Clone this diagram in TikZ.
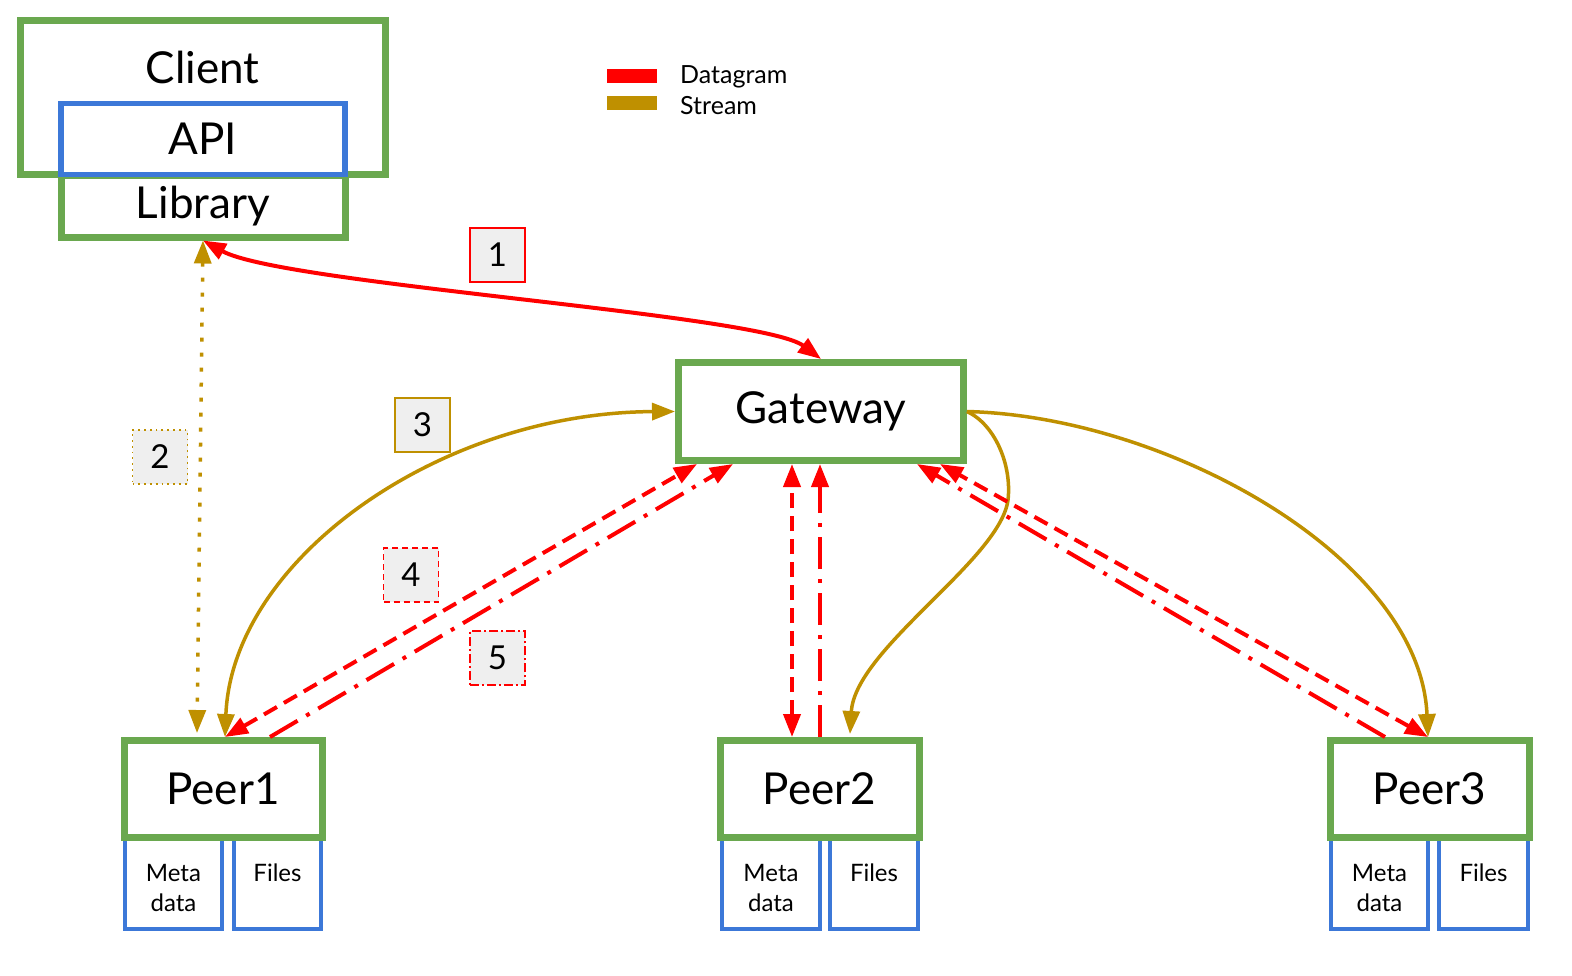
\documentclass[tikz,border=0pt]{standalone}
\usepackage{fontspec}
\setmainfont{Lato}
\usetikzlibrary{arrows.meta}
\definecolor{gr}{HTML}{6AA84F}
\definecolor{bl}{HTML}{3C78D8}
\definecolor{rd}{HTML}{FF0000}
\definecolor{gd}{HTML}{BF9000}
\definecolor{lg}{HTML}{EFEFEF}
\begin{document}
\begin{tikzpicture}[x=1pt,y=-1pt,
 gbox/.style={draw=gr,line width=7pt,fill=white,inner sep=0pt},
 bbox/.style={draw=bl,line width=3.5pt,fill=white,inner sep=0pt},
 big/.style={font=\fontsize{44}{52}\selectfont},
 small/.style={font=\fontsize{24}{30}\selectfont,align=center},
 legtext/.style={font=\fontsize{25}{30}\selectfont,anchor=west,inner sep=0pt},
 numbox/.style={fill=lg,minimum width=55pt,minimum height=54pt,font=\fontsize{33}{38}\selectfont,inner sep=0pt},
 tipA/.style={-{Triangle[length=23pt,width=17pt]}},
 tipB/.style={{Triangle[length=23pt,width=17pt]}-{Triangle[length=23pt,width=17pt]}},
 dg/.style={draw=rd,line width=4pt},
 st/.style={draw=gd,line width=3.5pt},
 dsh/.style={dash pattern=on 15pt off 8pt},
 dshdot/.style={dash pattern=on 32pt off 10pt on 4pt off 10pt},
 dtt/.style={dash pattern=on 4pt off 11pt},
]
\useasboundingbox[fill=white] (0,0) rectangle (1572,975);

% client
\node[gbox,minimum width=365pt,minimum height=154pt] (client) at (202.5,97) {};
\node[big] (clienttxt) at (202.5,67) {Client};
\node[gbox,minimum width=284pt,minimum height=62pt,big] (lib) at (203,206) {Library};
\node[bbox,line width=5.5pt,minimum width=284pt,minimum height=71pt,big] (api) at (203,139) {API};

% legend
\node[fill=rd,minimum width=50pt,minimum height=14pt,inner sep=0pt] (legd) at (632,76) {};
\node[fill=gd,minimum width=50pt,minimum height=14pt,inner sep=0pt] (legs) at (632,103) {};
\node[legtext] (legdt) at (680,77) {Datagram};
\node[legtext] (legst) at (680,106) {Stream};

% gateway
\node[gbox,minimum width=285pt,minimum height=98pt,big] (gw) at (821,411.5) {Gateway};

% peers
\node[bbox,minimum width=97pt,minimum height=92pt,small,text depth=0pt] (m1) at (173.5,883) {};
\node[small] (m1t) at (173.5,888) {Meta\\data};
\node[bbox,minimum width=87pt,minimum height=92pt] (f1) at (277.5,883) {};
\node[small] (f1t) at (277.5,873) {Files};
\node[gbox,minimum width=198pt,minimum height=97pt,big] (p1) at (223,789) {Peer1};

\node[bbox,minimum width=98pt,minimum height=92pt] (m2) at (771,883) {};
\node[small] (m2t) at (771,888) {Meta\\data};
\node[bbox,minimum width=88pt,minimum height=92pt] (f2) at (874,883) {};
\node[small] (f2t) at (874,873) {Files};
\node[gbox,minimum width=199pt,minimum height=97pt,big] (p2) at (819.5,789) {Peer2};

\node[bbox,minimum width=97pt,minimum height=92pt] (m3) at (1379.5,883) {};
\node[small] (m3t) at (1379.5,888) {Meta\\data};
\node[bbox,minimum width=89pt,minimum height=92pt] (f3) at (1483.5,883) {};
\node[small] (f3t) at (1483.5,873) {Files};
\node[gbox,minimum width=199pt,minimum height=97pt,big] (p3) at (1429.5,789) {Peer3};

% number boxes
\node[numbox,draw=rd,line width=1.8pt] (n1) at (497.5,255) {1};
\node[numbox,draw=gd,line width=1.8pt,dash pattern=on 1.8pt off 4pt] (n2) at (160,457) {2};
\node[numbox,draw=gd,line width=1.8pt] (n3) at (422.5,425) {3};
\node[numbox,draw=rd,line width=1.5pt,dash pattern=on 6pt off 4pt] (n4) at (411,575) {4};
\node[numbox,draw=rd,line width=1.5pt,dash pattern=on 9pt off 3pt on 2pt off 3pt] (n5) at (497.5,658) {5};

% 1: library <-> gateway
\draw[dg,tipB] (lib.south) .. controls +(80,44) and +(-60,-45) .. (gw.north);
% 2: library <-> peer1 (dotted)
\draw[st,tipB,dtt] (lib.south) -- ([xshift=-26pt,yshift=4pt]p1.north);
% 3: peer1 <-> gateway
\draw[st,tipB] ([xshift=2pt]p1.north) .. controls +(7,-177) and +(-236,1) .. (gw.west);
% gateway -> peer3, peer2
\draw[st,tipA] (gw.east) .. controls +(200,5) and +(-8,-180) .. ([xshift=-1.5pt]p3.north);
\coordinate (sbend) at (1008,500);
\draw[st,tipA] (gw.east) .. controls +(28,13) and +(4,-35) .. (sbend)
  .. controls +(-8,60) and +(5,-85) .. ([xshift=30.5pt,yshift=3pt]p2.north);

% 4, 5: datagrams
\draw[dg,tipB,dsh] ([xshift=2pt]p1.north) -- ([xshift=-124pt]gw.south);
\draw[dg,tipA,dshdot] ([xshift=47pt]p1.north) -- ([xshift=-88pt]gw.south);
\draw[dg,tipB,dsh] ([xshift=-27.5pt]p2.north) -- ([xshift=-29pt]gw.south);
\draw[dg,tipA,dshdot] ([xshift=0.5pt]p2.north) -- ([xshift=-1pt]gw.south);
\draw[dg,tipB,dsh] ([xshift=-1.5pt]p3.north) -- ([xshift=119pt]gw.south);
\draw[dg,tipA,dshdot] ([xshift=-44.5pt]p3.north) -- ([xshift=96pt]gw.south);
\end{tikzpicture}
\end{document}
